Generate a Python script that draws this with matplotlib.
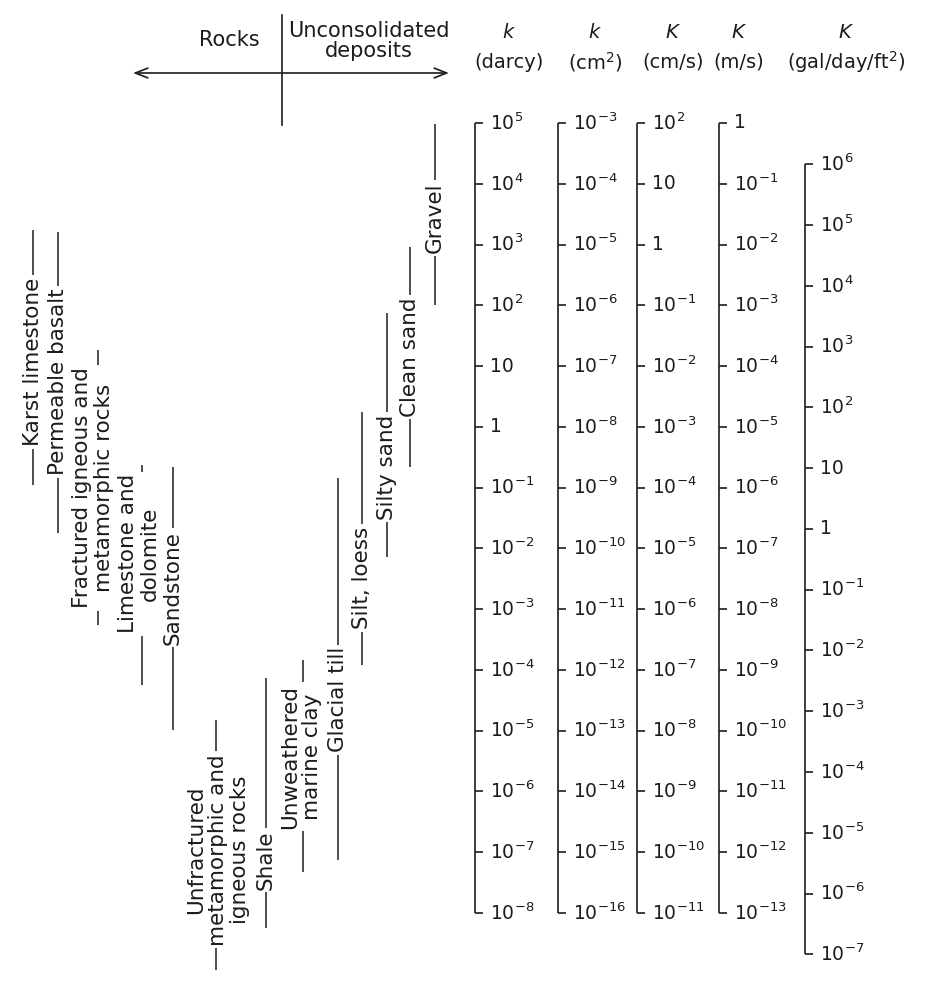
import matplotlib.pyplot as plt

# permeability ranges as log10(k in darcy)
ROCKS = [
    "Karst limestone",
    "Permeable basalt",
    "Fractured igneous and\nmetamorphic rocks",
    "Limestone and\ndolomite",
    "Sandstone",
    "Unfractured\nmetamorphic and\nigneous rocks",
    "Shale",
]
ROCK_LOW = [-0.96, -1.75, -3.26, -4.25, -4.99, -8.94, -8.25]
ROCK_HIGH = [3.24, 3.21, 1.26, -0.63, -0.66, -4.82, -4.13]

DEPOSITS = [
    "Unweathered\nmarine clay",
    "Glacial till",
    "Silt, loess",
    "Silty sand",
    "Clean sand",
    "Gravel",
]
DEPOSIT_LOW = [-7.33, -7.13, -3.92, -2.14, -0.66, 2.01]
DEPOSIT_HIGH = [-3.84, -0.84, 0.24, 1.87, 2.96, 4.98]

# scale columns: tick exponents in their own units
DARCY_TICKS = [5, 4, 3, 2, 1, 0, -1, -2, -3, -4, -5, -6, -7, -8]
CM2_TICKS = [-3, -4, -5, -6, -7, -8, -9, -10, -11, -12, -13, -14, -15, -16]
CMS_TICKS = [2, 1, 0, -1, -2, -3, -4, -5, -6, -7, -8, -9, -10, -11]
MS_TICKS = [0, -1, -2, -3, -4, -5, -6, -7, -8, -9, -10, -11, -12, -13]
GAL_TICKS = [6, 5, 4, 3, 2, 1, 0, -1, -2, -3, -4, -5, -6, -7]
# shift that turns a column exponent into a darcy exponent
SHIFTS = [0, 8, 3, 5, -1.68]
SYMBOLS = ["$k$", "$k$", "$K$", "$K$", "$K$"]
UNITS = ["(darcy)", "(cm$^2$)", "(cm/s)", "(m/s)", "(gal/day/ft$^2$)"]

# layout (x in pixels of the 940 px wide page)
ROCK_LINE_X = [33, 58, 98, 142, 173, 216, 266]
ROCK_TEXT_X = [33, 58, 93, 139, 173, 218, 266]
ROCK_TEXT_AT = [1.07, 0.74, -1.0, -2.09, -2.65, -6.96, -7.13]
DEPOSIT_LINE_X = [303, 338, 362, 387, 410, 435]
DEPOSIT_TEXT_X = [301, 338, 362, 387, 410, 435]
DEPOSIT_TEXT_AT = [-5.43, -4.49, -2.49, -0.66, 1.15, 3.44]
COLUMN_X = [475, 558, 637, 719, 805]
HEADER_X = [509, 595, 673, 739, 846]

INK = "#1c1c1c"
H = 984.0


def _tick_label(exp: int) -> str:
    if exp == 0:
        return "1"
    if exp == 1:
        return "10"
    return f"$10^{{{exp}}}$"


def _fy(pixel_y: float) -> float:
    return 1 - pixel_y / H


def main() -> None:
    fig = plt.figure(figsize=(9.4, 9.84), dpi=100)
    ax = fig.add_axes([0, 0, 1, 1])
    ax.set_xlim(0, 940)
    ax.set_yscale("log")
    ax.set_ylim(10 ** -9.168, 10 ** 7.024)
    ax.axis("off")
    top = ax.get_xaxis_transform()

    # header: rocks / unconsolidated deposits
    ax.text(229, _fy(40), "Rocks", transform=top, ha="center", va="center", fontsize=15, color=INK)
    ax.text(369, _fy(41), "Unconsolidated\ndeposits", transform=top, ha="center", va="center",
            fontsize=15, linespacing=1.05, color=INK)
    ax.plot([282, 282], [_fy(15), _fy(125)], transform=top, color=INK, lw=1.2)
    ax.annotate("", xy=(133, _fy(73)), xytext=(449, _fy(73)), xycoords=top, textcoords=top,
                arrowprops=dict(arrowstyle="<->,head_length=0.9,head_width=0.35", color=INK, lw=1.2,
                                shrinkA=0, shrinkB=0))

    box = dict(boxstyle="square,pad=0.12", facecolor="white", edgecolor="none")
    groups = [
        (ROCKS, ROCK_LOW, ROCK_HIGH, ROCK_LINE_X, ROCK_TEXT_X, ROCK_TEXT_AT),
        (DEPOSITS, DEPOSIT_LOW, DEPOSIT_HIGH, DEPOSIT_LINE_X, DEPOSIT_TEXT_X, DEPOSIT_TEXT_AT),
    ]
    for names, lows, highs, line_x, text_x, text_at in groups:
        for name, low, high, lx, tx, at in zip(names, lows, highs, line_x, text_x, text_at):
            ax.vlines(lx, 10 ** low, 10 ** high, color=INK, lw=1.1, zorder=1)
            ax.text(tx, 10 ** at, name, rotation=90, ha="center", va="center", multialignment="center",
                    fontsize=15.5, linespacing=1.1, color=INK, bbox=box, zorder=3)

    # unit scales
    columns = [DARCY_TICKS, CM2_TICKS, CMS_TICKS, MS_TICKS, GAL_TICKS]
    for ticks, shift, cx, hx, sym, unit in zip(columns, SHIFTS, COLUMN_X, HEADER_X, SYMBOLS, UNITS):
        darcy = [10 ** (t + shift) for t in ticks]
        ax.vlines(cx, min(darcy), max(darcy), color=INK, lw=1.2)
        ax.hlines(darcy, cx, cx + 8, color=INK, lw=1.2)
        for t, y in zip(ticks, darcy):
            ax.text(cx + 15, y, _tick_label(t), ha="left", va="center", fontsize=13.5, color=INK)
        ax.text(hx, _fy(32), sym, transform=top, ha="center", va="center", fontsize=14, color=INK)
        ax.text(hx, _fy(62), unit, transform=top, ha="center", va="center", fontsize=14, color=INK)

    fig.savefig("out.png", dpi=100, facecolor="white")
    plt.close(fig)


if __name__ == "__main__":
    main()
